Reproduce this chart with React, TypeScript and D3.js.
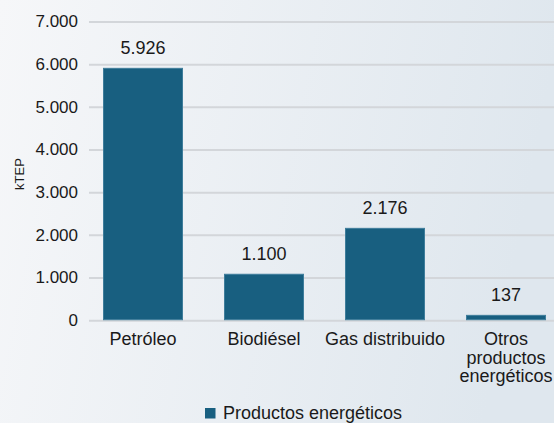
import React from "react";
import * as d3 from "d3";

const categories: string[][] = [
  ["Petróleo"],
  ["Biodiésel"],
  ["Gas distribuido"],
  ["Otros", "productos", "energéticos"],
];
const values: number[] = [5926, 1100, 2176, 137];
const yTicks: number[] = [0, 1000, 2000, 3000, 4000, 5000, 6000, 7000];
const seriesName = "Productos energéticos";
const yLabel = "kTEP";

const W = 554;
const H = 423;
const fmt = (v: number) => d3.format(",")(v).replace(/,/g, ".");

export default function App() {
  const y = d3.scaleLinear().domain([0, 7000]).range([320.7, 22]);
  const keys = categories.map((c) => c.join(" "));
  const x = d3
    .scaleBand<string>()
    .domain(keys)
    .range([82.5, 566.5])
    .paddingInner(0.339)
    .paddingOuter(0.1695);
  const font = "'Liberation Sans', Arial, Helvetica, sans-serif";
  const barColor = "#185f80";
  return (
    <svg
      width={W}
      height={H}
      style={{ position: "absolute", left: 0, top: 0 }}
      fontFamily={font}
    >
      <defs>
        <linearGradient id="bg" x1="0" y1="0" x2="1" y2="0.15">
          <stop offset="0" stopColor="#f6f7f9" />
          <stop offset="1" stopColor="#dfe7ee" />
        </linearGradient>
      </defs>
      <rect x={0} y={0} width={W} height={H} fill="url(#bg)" />
      {yTicks.map((t) => (
        <g key={t}>
          <line
            x1={89}
            x2={W}
            y1={y(t)}
            y2={y(t)}
            stroke="#d3d6da"
            strokeWidth={2}
          />
          <text
            x={78}
            y={y(t)}
            dy="0.32em"
            textAnchor="end"
            fontSize={17}
            fill="#1a1a1a"
          >
            {fmt(t)}
          </text>
        </g>
      ))}
      <text
        transform={`translate(24,174) rotate(-90)`}
        textAnchor="middle"
        fontSize={13}
        fill="#1a1a1a"
      >
        {yLabel}
      </text>
      {values.map((v, i) => {
        const k = keys[i];
        const bx = x(k) as number;
        const bw = x.bandwidth();
        return (
          <g key={k}>
            <rect
              x={bx + 0.5}
              y={y(v) + 0.5}
              width={bw - 1}
              height={y(0) - y(v) - 1.5}
              fill={barColor}
              stroke="#3f7d9b"
              strokeWidth={1}
            />
            <text
              x={bx + bw / 2}
              y={y(v) - 14}
              textAnchor="middle"
              fontSize={18}
              fill="#1a1a1a"
            >
              {fmt(v)}
            </text>
            <text
              x={bx + bw / 2}
              y={345}
              textAnchor="middle"
              fontSize={18}
              fill="#1a1a1a"
            >
              {categories[i].map((line, j) => (
                <tspan key={j} x={bx + bw / 2} dy={j === 0 ? 0 : 18.5}>
                  {line}
                </tspan>
              ))}
            </text>
          </g>
        );
      })}
      <rect x={205} y={408} width={10.5} height={10.5} fill={barColor} />
      <text x={223} y={419} fontSize={18} fill="#1a1a1a">
        {seriesName}
      </text>
    </svg>
  );
}
